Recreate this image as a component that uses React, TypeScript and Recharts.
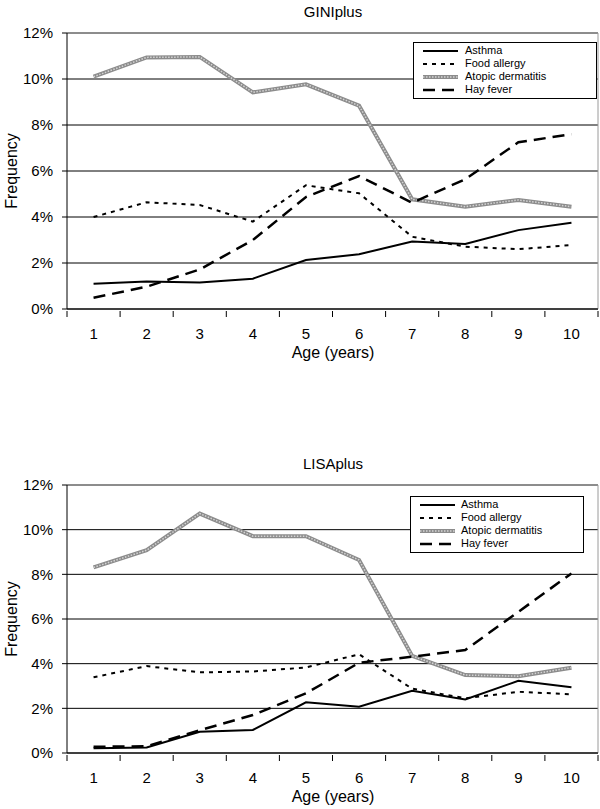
import { LineChart, Line, XAxis, YAxis, CartesianGrid, ReferenceLine } from "recharts"

const ages = [1, 2, 3, 4, 5, 6, 7, 8, 9, 10]
const yTicks = [0, 2, 4, 6, 8, 10, 12]

// GINIplus, % per age
const giniAsthma = [1.1, 1.2, 1.15, 1.32, 2.13, 2.38, 2.93, 2.83, 3.43, 3.75]
const giniFood = [4.0, 4.64, 4.52, 3.8, 5.38, 5.03, 3.14, 2.71, 2.6, 2.78]
const giniAtopic = [10.1, 10.94, 10.96, 9.42, 9.77, 8.84, 4.77, 4.45, 4.74, 4.45]
const giniHay = [0.49, 0.97, 1.72, 3.0, 4.87, 5.78, 4.62, 5.64, 7.25, 7.6]

// LISAplus, % per age
const lisaAsthma = [0.21, 0.25, 0.95, 1.03, 2.27, 2.07, 2.79, 2.4, 3.23, 2.94]
const lisaFood = [3.39, 3.89, 3.61, 3.65, 3.83, 4.42, 2.88, 2.45, 2.74, 2.63]
const lisaAtopic = [8.31, 9.08, 10.72, 9.71, 9.71, 8.64, 4.35, 3.49, 3.44, 3.82]
const lisaHay = [0.28, 0.3, 1.02, 1.7, 2.67, 4.04, 4.31, 4.61, 6.32, 8.04]

const font = "'Liberation Sans', Arial, sans-serif"
const PLOT_LEFT = 67
const PLOT_RIGHT = 598
const HALF_BAND = (PLOT_RIGHT - PLOT_LEFT) / ages.length / 2

function buildRows(a: number[], f: number[], d: number[], h: number[]) {
  return ages.map((age, i) => ({ age, asthma: a[i], food: f[i], atopic: d[i], hay: h[i] }))
}

const giniData = buildRows(giniAsthma, giniFood, giniAtopic, giniHay)
const lisaData = buildRows(lisaAsthma, lisaFood, lisaAtopic, lisaHay)

const XTick = (props: any) => {
  const { x, y, payload, index } = props
  const last = index === ages.length - 1
  return (
    <g>
      <line x1={x - HALF_BAND} x2={x - HALF_BAND} y1={y} y2={y + 6} stroke="#000" />
      {last && <line x1={x + HALF_BAND} x2={x + HALF_BAND} y1={y} y2={y + 6} stroke="#000" />}
      <text x={x} y={y + 28} textAnchor="middle" fontSize={15} fill="#000" fontFamily={font}>
        {payload.value}
      </text>
    </g>
  )
}

const legendItems = [
  { name: "Asthma", kind: "solid" },
  { name: "Food allergy", kind: "dot" },
  { name: "Atopic dermatitis", kind: "atopic" },
  { name: "Hay fever", kind: "dash" },
]

function Sample({ kind }: { kind: string }) {
  return (
    <svg width={35} height={8} style={{ display: "block" }}>
      {kind === "solid" && <line x1={0} x2={35} y1={4} y2={4} stroke="#000" strokeWidth={2} />}
      {kind === "dot" && <line x1={0} x2={35} y1={4} y2={4} stroke="#000" strokeWidth={2} strokeDasharray="4 5" />}
      {kind === "atopic" && (
        <>
          <line x1={0} x2={35} y1={4} y2={4} stroke="#8c8c8c" strokeWidth={4} />
          <line x1={0} x2={35} y1={4} y2={4} stroke="#d4d4d4" strokeWidth={1.5} strokeDasharray="1.5 1.5" />
        </>
      )}
      {kind === "dash" && <line x1={0} x2={35} y1={4} y2={4} stroke="#000" strokeWidth={2.5} strokeDasharray="12 7" />}
    </svg>
  )
}

function LegendBox({ left, top, width, gap }: { left: number; top: number; width: number; gap: number }) {
  return (
    <div
      style={{
        position: "absolute",
        left,
        top,
        width,
        height: 57,
        boxSizing: "border-box",
        border: "1px solid #000",
        background: "#fff",
        padding: "1px 0 0 9px",
        fontFamily: font,
        fontSize: 11,
        color: "#000",
      }}
    >
      {legendItems.map((it) => (
        <div key={it.name} style={{ display: "flex", alignItems: "center", height: 13 }}>
          <Sample kind={it.kind} />
          <span style={{ marginLeft: gap, lineHeight: "13px" }}>{it.name}</span>
        </div>
      ))}
    </div>
  )
}

interface PanelProps {
  title: string
  data: any[]
  top: number
  marginTop: number
  plotHeight: number
  legend: { left: number; top: number; width: number; gap: number }
}

function Panel({ title, data, top, marginTop, plotHeight, legend }: PanelProps) {
  const height = marginTop + plotHeight + 51
  const plotTop = top + marginTop
  const plotBottom = plotTop + plotHeight
  const textStyle = { position: "absolute" as const, fontFamily: font, color: "#000", whiteSpace: "nowrap" as const }
  return (
    <>
      <div style={{ ...textStyle, left: 0, width: 666, textAlign: "center", top: plotTop - 30, fontSize: 15 }}>{title}</div>
      <div style={{ position: "absolute", left: 0, top }}>
        <LineChart width={600} height={height} data={data} margin={{ top: marginTop, right: 2, bottom: 0, left: 0 }}>
          <CartesianGrid vertical={false} stroke="#000" strokeWidth={1} />
          <ReferenceLine y={12} stroke="#9a9a9a" />
          <ReferenceLine x={10.5} stroke="#9a9a9a" />
          <XAxis
            dataKey="age"
            type="number"
            domain={[0.5, 10.5]}
            ticks={ages}
            height={51}
            tickSize={0}
            tickLine={false}
            axisLine={{ stroke: "#000" }}
            tick={<XTick />}
            interval={0}
          />
          <YAxis
            type="number"
            domain={[0, 12]}
            ticks={yTicks}
            width={PLOT_LEFT}
            tickSize={5}
            tickMargin={9}
            tickLine={{ stroke: "#000" }}
            axisLine={{ stroke: "#000" }}
            tickFormatter={(v: number) => `${v}%`}
            tick={{ fontSize: 15, fill: "#000", fontFamily: font }}
            interval={0}
          />
          <Line dataKey="atopic" name="Atopic dermatitis" stroke="#8c8c8c" strokeWidth={4} dot={false} isAnimationActive={false} />
          <Line dataKey="atopic" name="Atopic texture" stroke="#d4d4d4" strokeWidth={1.5} strokeDasharray="1.5 1.5" dot={false} isAnimationActive={false} />
          <Line dataKey="food" name="Food allergy" stroke="#000" strokeWidth={2} strokeDasharray="4 5" dot={false} isAnimationActive={false} />
          <Line dataKey="hay" name="Hay fever" stroke="#000" strokeWidth={2.5} strokeDasharray="12 7" dot={false} isAnimationActive={false} />
          <Line dataKey="asthma" name="Asthma" stroke="#000" strokeWidth={2} dot={false} isAnimationActive={false} />
        </LineChart>
      </div>
      <LegendBox left={legend.left} top={top + legend.top} width={legend.width} gap={legend.gap} />
      <div style={{ ...textStyle, left: 0, width: 666, textAlign: "center", top: plotBottom + 35, fontSize: 16 }}>Age (years)</div>
      <div
        style={{
          ...textStyle,
          left: 12,
          top: (plotTop + plotBottom) / 2,
          fontSize: 16,
          transform: "translate(-50%, -50%) rotate(-90deg)",
        }}
      >
        Frequency
      </div>
    </>
  )
}

export default function App() {
  return (
    <div style={{ position: "absolute", left: 0, top: 0, width: 600, height: 809, overflow: "hidden", background: "#fff" }}>
      <Panel
        title="GINIplus"
        data={giniData}
        top={0}
        marginTop={33}
        plotHeight={276}
        legend={{ left: 413, top: 42, width: 184, gap: 7 }}
      />
      <Panel
        title="LISAplus"
        data={lisaData}
        top={400}
        marginTop={85}
        plotHeight={268}
        legend={{ left: 410, top: 96, width: 174, gap: 6 }}
      />
    </div>
  )
}
